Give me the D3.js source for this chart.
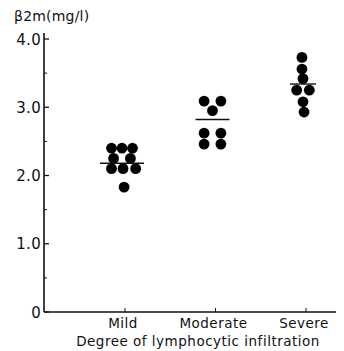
<!DOCTYPE html>
<html>
<head>
<meta charset="utf-8">
<script src="https://cdn.jsdelivr.net/npm/d3@7"></script>
<style>
  body { margin: 0; background: #fff; }
  text { font-family: "DejaVu Sans", sans-serif; fill: #111; }
</style>
</head>
<body>
<svg id="chart" width="344" height="351"></svg>
<script>
// categories and values
const categories = ["Mild", "Moderate", "Severe"]
// beta2m values per group (mg/l)
const mildValues = [2.40, 2.40, 2.40, 2.25, 2.25, 2.10, 2.10, 2.10, 1.83]
const moderateValues = [3.09, 3.09, 2.95, 2.62, 2.62, 2.46, 2.46]
const severeValues = [3.73, 3.56, 3.42, 3.25, 3.25, 3.08, 2.93]
// side-by-side slot of each dot (in dot widths) so stacked dots don't hide each other
const mildSlots = [-1, 0, 1, -0.8, 0.8, -1, 0.1, 1.3, 0.2]
const moderateSlots = [-0.8, 0.8, 0, -0.8, 0.8, -0.8, 0.8]
const severeSlots = [-0.1, -0.1, 0, -0.6, 0.6, 0, 0.1]
// group means (horizontal bars)
const means = [2.18, 2.82, 3.34]
const yTicks = [0, 1, 2, 3, 4]
const yTickLabels = ["0", "1.0", "2.0", "3.0", "4.0"]

const groups = [
  { cat: categories[0], values: mildValues, slots: mildSlots },
  { cat: categories[1], values: moderateValues, slots: moderateSlots },
  { cat: categories[2], values: severeValues, slots: severeSlots }
]

const svg = d3.select("#chart")
const x0 = 44, yBase = 312

const xScale = d3.scalePoint()
  .domain(categories)
  .range([122, 303])

const yScale = d3.scaleLinear()
  .domain([0, 4])
  .range([yBase, 39])

const slotScale = d3.scaleLinear().domain([0, 1]).range([0, 10.5])

// y axis
const yAxis = svg.append('g').attr('transform', `translate(${x0}, 0)`)
yAxis.append('line')
  .attr('x1', 0).attr('x2', 0)
  .attr('y1', yScale(0)).attr('y2', yScale(4) - 6)
  .attr('stroke', '#111').attr('stroke-width', 1.6)
// minor ticks
yAxis.selectAll('.minor')
  .data(d3.range(0.5, 4, 1))
  .enter().append('line')
  .attr('x1', 0).attr('x2', 3)
  .attr('y1', d => yScale(d)).attr('y2', d => yScale(d))
  .attr('stroke', '#111').attr('stroke-width', 1)
yAxis.selectAll('.major')
  .data(yTicks)
  .enter().append('line')
  .attr('x1', 0).attr('x2', 5)
  .attr('y1', d => yScale(d)).attr('y2', d => yScale(d))
  .attr('stroke', '#111').attr('stroke-width', 1.3)
yAxis.selectAll('.lab')
  .data(yTicks)
  .enter().append('text')
  .attr('x', -3)
  .attr('y', d => yScale(d) + 5.5)
  .attr('text-anchor', 'end')
  .attr('font-size', 15)
  .attr('letter-spacing', 0.3)
  .text((d, i) => yTickLabels[i])

// x axis
const xAxis = svg.append('g')
xAxis.append('line')
  .attr('x1', x0).attr('x2', 336)
  .attr('y1', yBase).attr('y2', yBase)
  .attr('stroke', '#111').attr('stroke-width', 1.6)
xAxis.selectAll('.tick')
  .data(categories)
  .enter().append('line')
  .attr('x1', d => xScale(d) + 3).attr('x2', d => xScale(d) + 3)
  .attr('y1', yBase).attr('y2', yBase - 4)
  .attr('stroke', '#111').attr('stroke-width', 1)
xAxis.selectAll('.lab')
  .data(categories)
  .enter().append('text')
  .attr('x', d => xScale(d) + 1)
  .attr('y', 328)
  .attr('text-anchor', 'middle')
  .attr('font-size', 13.5)
  .attr('letter-spacing', 0.5)
  .text(d => d)

// dots
groups.forEach(g => {
  svg.append('g').selectAll('circle')
    .data(g.values)
    .enter().append('circle')
    .attr('cx', (v, i) => xScale(g.cat) + slotScale(g.slots[i]))
    .attr('cy', v => yScale(v))
    .attr('r', 5.4)
    .attr('fill', '#000')
})

// mean bars
const meanHalf = [22, 17, 13]
svg.append('g').selectAll('line')
  .data(means)
  .enter().append('line')
  .attr('x1', (m, i) => xScale(categories[i]) - meanHalf[i])
  .attr('x2', (m, i) => xScale(categories[i]) + meanHalf[i])
  .attr('y1', m => yScale(m)).attr('y2', m => yScale(m))
  .attr('stroke', '#111').attr('stroke-width', 1.4)

// titles
svg.append('text')
  .attr('x', 14).attr('y', 21)
  .attr('font-size', 14)
  .attr('letter-spacing', 0.2)
  .text('β2m(mg/l)')

svg.append('text')
  .attr('x', 198).attr('y', 346)
  .attr('text-anchor', 'middle')
  .attr('font-size', 13.5)
  .attr('letter-spacing', 0.5)
  .text('Degree of lymphocytic infiltration')
</script>
</body>
</html>
